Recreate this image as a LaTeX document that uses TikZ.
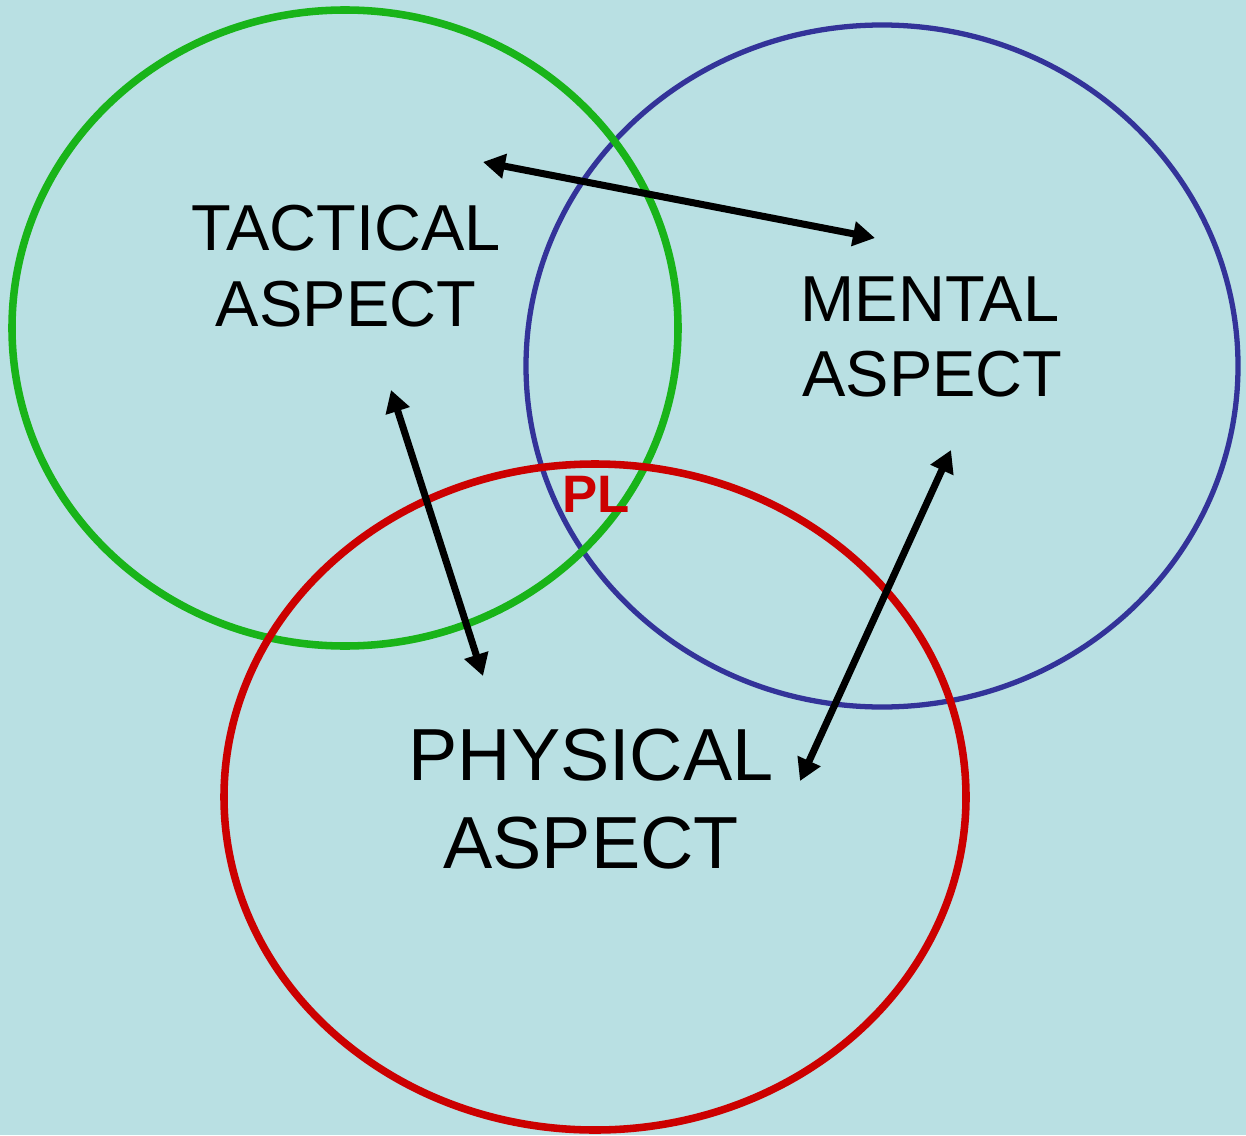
\documentclass[tikz,border=0pt]{standalone}
\usepackage{fontspec}
\setmainfont{Liberation Sans}
\usetikzlibrary{arrows.meta,positioning}
\definecolor{bgblue}{HTML}{B9E0E3}
\definecolor{tacgreen}{HTML}{19B419}
\definecolor{menblue}{HTML}{333399}
\definecolor{phyred}{HTML}{CC0000}

\begin{document}
\begin{tikzpicture}[x=0.02cm,y=-0.02cm,
  aspect/.style={align=center,inner sep=0pt,font=\fontsize{37}{43}\selectfont},
  ring/.style={line width=#1},
  link/.style={line width=4pt,{Triangle[length=0.44cm,width=0.48cm]}-{Triangle[length=0.44cm,width=0.48cm]}},
]
  \fill[bgblue] (0,0) rectangle (1246,1135);
  \useasboundingbox (0,0) rectangle (1246,1135);
  % the three aspects
  \draw[ring=3pt,menblue] (882,366) ellipse [x radius=356, y radius=341];
  \draw[ring=4.3pt,tacgreen] (345,328) ellipse [x radius=333, y radius=318];
  \draw[ring=4.3pt,phyred] (595,797) ellipse [x radius=371, y radius=333];
  \node[aspect] (tactical) at (346,266) {TACTICAL\\ASPECT};
  \node[aspect] (mental) at (930,337) {MENTAL\hspace{0.4cm}\\\hspace{0.1cm}ASPECT};
  \node[aspect,font=\fontsize{42}{50}\selectfont] (physical) at (591,799) {PHYSICAL\\ASPECT};
  \node[font=\fontsize{30}{30}\selectfont\bfseries,text=phyred,inner sep=0pt] (pl) at (596,494) {PL};
  % links between aspects
  \coordinate (tm1) at (483,162);
  \coordinate (tm2) at (875,238);
  \coordinate (tp1) at (391,390);
  \coordinate (tp2) at (483,676);
  \coordinate (mp1) at (951,450);
  \coordinate (mp2) at (800,781);
  \draw[link] (tm1) -- (tm2);
  \draw[link] (tp1) -- (tp2);
  \draw[link] (mp1) -- (mp2);
\end{tikzpicture}
\end{document}
